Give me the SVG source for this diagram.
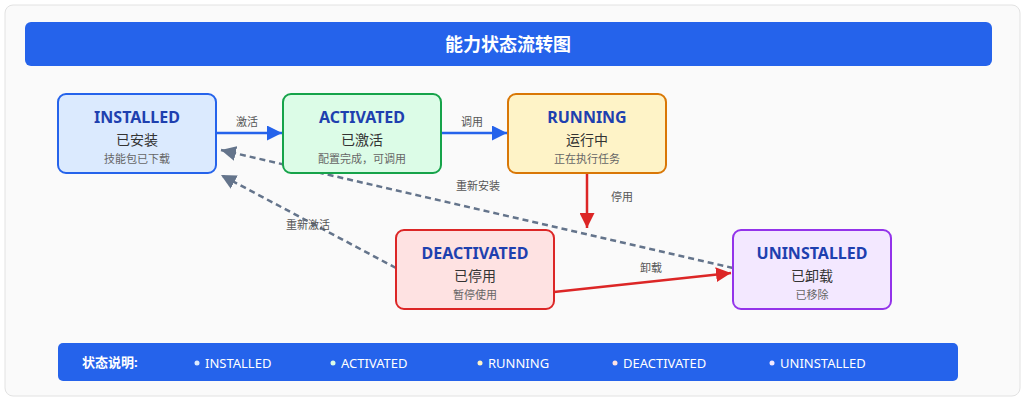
<svg xmlns="http://www.w3.org/2000/svg" width="1026" height="400" viewBox="0 0 1026 400">
<style>
text{font-family:"Noto Sans","Noto Sans CJK SC",sans-serif;text-anchor:middle}
.t{font-size:16px;font-weight:bold;fill:#1e40af}
.c{font-size:14px;fill:#333}
.s{font-size:11px;fill:#666}
.l{font-size:11px;fill:#555}
.lg{font-size:13px;fill:#fff;text-anchor:start}
.box{stroke-width:2}
.b{stroke:#2563eb;stroke-width:2.5;fill:none}
.r{stroke:#dc2626;stroke-width:2.5;fill:none}
.d{stroke:#64748b;stroke-width:2.5;fill:none;stroke-dasharray:6,4}
</style>
<defs>
<marker id="ab" viewBox="0 0 10 10" refX="10" refY="5" markerWidth="6" markerHeight="6" markerUnits="strokeWidth" orient="auto"><path d="M0,0L10,5L0,10z" fill="#2563eb"/></marker>
<marker id="ar" viewBox="0 0 10 10" refX="10" refY="5" markerWidth="6" markerHeight="6" markerUnits="strokeWidth" orient="auto"><path d="M0,0L10,5L0,10z" fill="#dc2626"/></marker>
<marker id="ad" viewBox="0 0 10 10" refX="10" refY="5" markerWidth="6" markerHeight="6" markerUnits="strokeWidth" orient="auto"><path d="M0,0L10,5L0,10z" fill="#64748b"/></marker>
</defs>
<rect x="5" y="5" width="1015" height="391" rx="8" fill="#fafafa" stroke="#e2e2e2"/>
<g id="title"><rect x="25" y="22" width="967" height="44" rx="6" fill="#2563eb"/>
<text x="508" y="51" font-size="18" font-weight="bold" fill="#fff">能力状态流转图</text></g>
<g id="connectors">
<line class="b" x1="216" y1="133" x2="282" y2="133" marker-end="url(#ab)"/>
<text class="l" x="247" y="126">激活</text>
<line class="b" x1="441" y1="133" x2="507" y2="133" marker-end="url(#ab)"/>
<text class="l" x="472" y="126">调用</text>
<line class="r" x1="587" y1="173" x2="587" y2="228" marker-end="url(#ar)"/>
<text class="l" x="622" y="201">停用</text>
<line class="r" x1="554" y1="292" x2="731" y2="273" marker-end="url(#ar)"/>
<text class="l" x="651" y="272">卸载</text>
<line class="d" x1="733" y1="268" x2="221" y2="150" marker-end="url(#ad)"/>
<text class="l" x="478" y="190">重新安装</text>
<line class="d" x1="396" y1="268" x2="221" y2="175" marker-end="url(#ad)"/>
<text class="l" x="308" y="229">重新激活</text>
</g>
<g id="installed"><rect class="box" x="58" y="94" width="158" height="79" rx="8" fill="#dbeafe" stroke="#2563eb"/>
<text class="t" x="137" y="123">INSTALLED</text><text class="c" x="137" y="145">已安装</text><text class="s" x="137" y="163">技能包已下载</text></g>
<g id="activated"><rect class="box" x="283" y="94" width="158" height="79" rx="8" fill="#dcfce7" stroke="#16a34a"/>
<text class="t" x="362" y="123">ACTIVATED</text><text class="c" x="362" y="145">已激活</text><text class="s" x="362" y="163">配置完成，可调用</text></g>
<g id="running"><rect class="box" x="508" y="94" width="158" height="79" rx="8" fill="#fef3c7" stroke="#d97706"/>
<text class="t" x="587" y="123">RUNNING</text><text class="c" x="587" y="145">运行中</text><text class="s" x="587" y="163">正在执行任务</text></g>
<g id="deactivated"><rect class="box" x="396" y="230" width="158" height="79" rx="8" fill="#fee2e2" stroke="#dc2626"/>
<text class="t" x="475" y="259">DEACTIVATED</text><text class="c" x="475" y="281">已停用</text><text class="s" x="475" y="299">暂停使用</text></g>
<g id="uninstalled"><rect class="box" x="733" y="230" width="158" height="79" rx="8" fill="#f3e8ff" stroke="#9333ea"/>
<text class="t" x="812" y="259">UNINSTALLED</text><text class="c" x="812" y="281">已卸载</text><text class="s" x="812" y="299">已移除</text></g>
<g id="legend"><rect x="58" y="343" width="900" height="38" rx="5" fill="#2563eb"/>
<text class="lg" x="82" y="367" font-weight="bold">状态说明:</text>
<circle cx="197" cy="363" r="2.5" fill="#dbeafe"/><text class="lg" x="205" y="368">INSTALLED</text>
<circle cx="333" cy="363" r="2.5" fill="#dcfce7"/><text class="lg" x="341" y="368">ACTIVATED</text>
<circle cx="480" cy="363" r="2.5" fill="#fef3c7"/><text class="lg" x="488" y="368">RUNNING</text>
<circle cx="615" cy="363" r="2.5" fill="#fee2e2"/><text class="lg" x="623" y="368">DEACTIVATED</text>
<circle cx="772" cy="363" r="2.5" fill="#f3e8ff"/><text class="lg" x="780" y="368">UNINSTALLED</text>
</g>
</svg>
